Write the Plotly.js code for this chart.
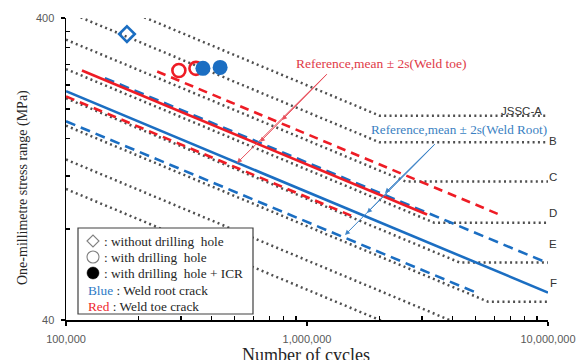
<!DOCTYPE html>
<html>
<head>
<meta charset="utf-8">
<script src="https://cdn.plot.ly/plotly-3.0.1.min.js"></script>
<style>html,body{margin:0;padding:0;background:#fff;}#chart{width:576px;height:360px;}</style>
</head>
<body>
<div id="chart"></div>
<script>
// ---------------- DATA ----------------
// JSSC design curves (cycles, stress range MPa) – endpoints
const jsscNames = ['JSSC-A','B','C','D','E','F','G','H'];
const jsscA_x = [1e5, 2e6, 1e7];    const jsscA_y = [516, 190, 190];
const jsscB_x = [1e5, 2e6, 1e7];    const jsscB_y = [421, 155, 155];
const jsscC_x = [1e5, 2.57e6, 1e7]; const jsscC_y = [339, 115, 115];
const jsscD_x = [1e5, 3.37e6, 1e7]; const jsscD_y = [271, 84, 84];
const jsscE_x = [1e5, 4.3e6, 1e7];  const jsscE_y = [217, 62, 62];
const jsscF_x = [1e5, 5.64e6, 1e7]; const jsscF_y = [176, 46, 46];
const jsscG_x = [1e5, 1e7];         const jsscG_y = [136, 29.2];
const jsscH_x = [1e5, 1e7];         const jsscH_y = [108.6, 23.4];

// Reference lines, mean ± 2s
const toeMean_x  = [1.165e5, 3.15e6]; const toeMean_y  = [268, 89.4];
const toeUpper_x = [2.39e5, 6.3e6];   const toeUpper_y = [266, 89.3];
const toeLower_x = [1e5, 1.58e6];     const toeLower_y = [220, 87.6];
const rootMean_x  = [1e5, 1e7];       const rootMean_y  = [229, 49.3];
const rootUpper_x = [1.45e5, 1e7];    const rootUpper_y = [253, 61.7];
const rootLower_x = [1e5, 5.13e6];    const rootLower_y = [182, 49];

// Test results
const noHole_x = [1.79e5];            const noHole_y = [354];
const hole_x = [2.94e5, 3.46e5];      const hole_y = [268, 272.5];
const holeICR_x = [3.70e5, 4.36e5];   const holeICR_y = [272.5, 274.5];

// Ticks
const xTickVals = [1e5, 1e6, 1e7];
const xTickText = ['100,000', '1,000,000', '10,000,000'];
const xMinorVals = [2e5,3e5,4e5,5e5,6e5,7e5,8e5,9e5,2e6,3e6,4e6,5e6,6e6,7e6,8e6,9e6];
const yTickVals = [40, 400];
const yTickText = ['40', '400'];
const yMinorVals = [80,120,160,200,240,280,320,360];

// ---------------- STYLE ----------------
const RED = '#ee1c25', BLUE = '#1b6ec2', DOT = '#4f4f4f';
const SERIF = 'Liberation Serif, Times New Roman, serif';
const SANS = 'Liberation Sans, Arial, sans-serif';

function dotted(x, y) {
  return {x: x, y: y, type: 'scatter', mode: 'lines', hoverinfo: 'skip',
          line: {color: DOT, width: 2.5, dash: '2px,3.3px'}};
}
function ref(x, y, color, dash) {
  return {x: x, y: y, type: 'scatter', mode: 'lines', hoverinfo: 'skip',
          line: {color: color, width: 2.6, dash: dash}};
}

const traces = [
  dotted(jsscA_x, jsscA_y), dotted(jsscB_x, jsscB_y), dotted(jsscC_x, jsscC_y),
  dotted(jsscD_x, jsscD_y), dotted(jsscE_x, jsscE_y), dotted(jsscF_x, jsscF_y),
  dotted(jsscG_x, jsscG_y), dotted(jsscH_x, jsscH_y),
  ref(rootUpper_x, rootUpper_y, BLUE, '10px,6px'),
  ref(rootLower_x, rootLower_y, BLUE, '10px,6px'),
  ref(toeLower_x, toeLower_y, RED, '9px,6px'),
  ref(rootMean_x, rootMean_y, BLUE, 'solid'),
  ref(toeMean_x, toeMean_y, RED, 'solid'),
  ref(toeUpper_x, toeUpper_y, RED, '9px,6px'),
  {x: noHole_x, y: noHole_y, type: 'scatter', mode: 'markers', cliponaxis: false,
   marker: {symbol: 'diamond-open', size: 12, color: BLUE, line: {width: 2.6, color: BLUE}}},
  {x: hole_x, y: hole_y, type: 'scatter', mode: 'markers', cliponaxis: false,
   marker: {symbol: 'circle-open', size: 13, color: RED, line: {width: 2.6, color: RED}}},
  {x: holeICR_x, y: holeICR_y, type: 'scatter', mode: 'markers', cliponaxis: false,
   marker: {symbol: 'circle', size: 15, color: BLUE, line: {width: 0}}}
];

// helper: pixel position -> axis (log10) coords, used only for annotation placement
const PL = 66, PT = 18, PW = 482, PH = 302;
function lx(px) { return 5 + (px - PL) / PW * 2; }
function ly(py) { return Math.log10(400) - (py - PT) / PH; }
function paperX(px) { return (px - PL) / PW; }
function paperY(py) { return (PT + PH - py) / PH; }

const annotations = [];
// arrows: red (weld toe)
[[282,120],[260,142],[237,163]].forEach(h => annotations.push({
  x: lx(h[0]), y: ly(h[1]), xref: 'x', yref: 'y', ax: lx(328), ay: ly(73), axref: 'x', ayref: 'y',
  text: '', showarrow: true, arrowhead: 2, arrowsize: 1, arrowwidth: 1, arrowcolor: '#e8505c'
}));
// arrows: blue (weld root)
[[385,193],[367,213],[345,235]].forEach(h => annotations.push({
  x: lx(h[0]), y: ly(h[1]), xref: 'x', yref: 'y', ax: lx(436), ay: ly(143), axref: 'x', ayref: 'y',
  text: '', showarrow: true, arrowhead: 2, arrowsize: 1, arrowwidth: 1, arrowcolor: '#3f85c8'
}));
annotations.push({x: lx(381), y: ly(63), xref: 'x', yref: 'y', showarrow: false,
  text: 'Reference,mean ± 2s(Weld toe)', font: {family: SERIF, size: 13.5, color: '#e03a48'}});
annotations.push({x: lx(459), y: ly(129), xref: 'x', yref: 'y', showarrow: false,
  text: 'Reference,mean ± 2s(Weld Root)', font: {family: SERIF, size: 13.2, color: '#3a7fc2'}});

// JSSC labels
const jsscLabelPos = [[544,103],[559,141],[559,177],[559,213],[559,252],[559,291]];
jsscLabelPos.forEach((p, i) => annotations.push({
  x: paperX(p[0]), y: paperY(p[1]), xref: 'paper', yref: 'paper', showarrow: false,
  text: jsscNames[i], font: {family: SANS, size: 11.5, color: '#333333'}
}));

// legend texts
const legendLines = [
  ': without drilling\u00a0\u00a0hole',
  ': with drilling\u00a0\u00a0hole',
  ': with drilling\u00a0\u00a0hole + ICR',
  '<span style="color:#2e7bc6">Blue</span> : Weld root crack',
  '<span style="color:#ee2a30">Red</span> : Weld toe crack'
];
const legendY = [241, 257, 273, 290, 306];
const legendX = [102, 102, 102, 86, 86];
legendLines.forEach((t, i) => annotations.push({
  x: paperX(legendX[i]), y: paperY(legendY[i]), xref: 'paper', yref: 'paper', xanchor: 'left', yanchor: 'middle',
  showarrow: false, text: t, font: {family: SERIF, size: 13.3, color: '#262626'}
}));

// axis titles
annotations.push({x: paperX(306), y: paperY(343), xref: 'paper', yref: 'paper', xanchor: 'center', yanchor: 'top',
  showarrow: false, text: 'Number of cycles', font: {family: SERIF, size: 18, color: '#262626'}});
annotations.push({x: paperX(23), y: paperY(188), xref: 'paper', yref: 'paper', xanchor: 'center', yanchor: 'middle',
  showarrow: false, textangle: -90, text: 'One-millimetre stress range (MPa)',
  font: {family: SERIF, size: 14, color: '#262626'}});

// legend box and its key symbols (decoration shapes, paper coords)
const shapes = [{type: 'rect', xref: 'paper', yref: 'paper',
    x0: paperX(78), x1: paperX(253), y0: paperY(314), y1: paperY(228),
    fillcolor: '#fff', line: {color: '#404040', width: 1.2}, layer: 'above'}];
const symX = 93;
shapes.push({type: 'path', xref: 'paper', yref: 'paper', layer: 'above',
  path: 'M' + paperX(symX - 6) + ',' + paperY(241) + ' L' + paperX(symX) + ',' + paperY(235) +
        ' L' + paperX(symX + 6) + ',' + paperY(241) + ' L' + paperX(symX) + ',' + paperY(247) + ' Z',
  fillcolor: 'rgba(0,0,0,0)', line: {color: '#808080', width: 1.1}});
shapes.push({type: 'circle', xref: 'paper', yref: 'paper', layer: 'above',
  x0: paperX(symX - 6), x1: paperX(symX + 6), y0: paperY(263), y1: paperY(251),
  fillcolor: 'rgba(0,0,0,0)', line: {color: '#808080', width: 1.1}});
shapes.push({type: 'circle', xref: 'paper', yref: 'paper', layer: 'above',
  x0: paperX(symX - 6), x1: paperX(symX + 6), y0: paperY(279), y1: paperY(267),
  fillcolor: '#000', line: {color: '#000', width: 0.5}});

const layout = {
  width: 576, height: 360,
  margin: {l: PL, r: 576 - PL - PW, t: PT, b: 360 - PT - PH, pad: 0},
  paper_bgcolor: '#fff', plot_bgcolor: '#fff',
  showlegend: false, hovermode: false,
  xaxis: {type: 'log', range: [5, 7], showgrid: false, zeroline: false,
    showline: true, linecolor: '#000', linewidth: 1.5,
    tickmode: 'array', tickvals: xTickVals, ticktext: xTickText,
    ticks: 'outside', ticklen: 4, tickwidth: 1.5, tickcolor: '#000', ticklabelstandoff: 4,
    tickfont: {family: SANS, size: 11, color: '#595959'},
    minor: {tickmode: 'array', tickvals: xMinorVals, ticks: 'inside', ticklen: 4, tickwidth: 1.2, tickcolor: '#000', showgrid: false}},
  yaxis: {type: 'log', range: [Math.log10(40), Math.log10(400)], showgrid: false, zeroline: false,
    showline: true, linecolor: '#000', linewidth: 1.5,
    tickmode: 'array', tickvals: yTickVals, ticktext: yTickText,
    ticks: 'outside', ticklen: 4, tickwidth: 1.5, tickcolor: '#000', ticklabelstandoff: 4,
    tickfont: {family: SANS, size: 11, color: '#595959'},
    minor: {tickmode: 'array', tickvals: yMinorVals, ticks: 'inside', ticklen: 4, tickwidth: 1.2, tickcolor: '#000', showgrid: false}},
  shapes: shapes,
  annotations: annotations
};

Plotly.newPlot('chart', traces, layout, {staticPlot: true, displayModeBar: false});
</script>
</body>
</html>
